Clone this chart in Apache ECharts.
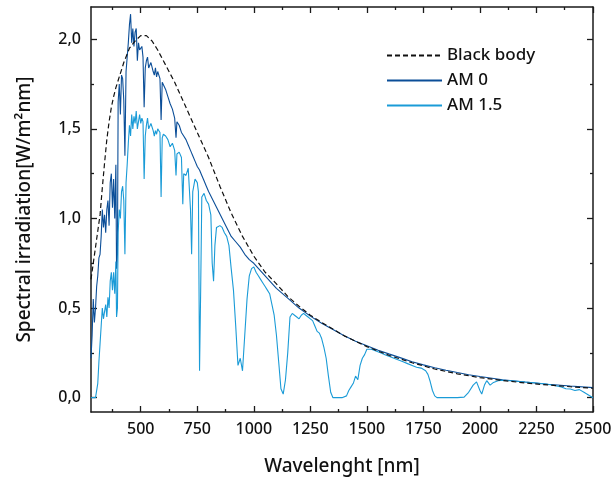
<!DOCTYPE html>
<html>
<head>
<meta charset="utf-8">
<script src="https://cdn.jsdelivr.net/npm/echarts@6/dist/echarts.min.js"></script>
<style>
  html, body { margin: 0; padding: 0; background: #fff; }
  #chart { width: 614px; height: 479px; }
</style>
</head>
<body>
<div id="chart"></div>
<script>
// black body curve
const bbWl = [280, 290, 300, 310, 320, 330, 340, 350, 360, 370, 380, 390, 400, 425, 450, 475, 500, 525, 550, 575, 600, 650, 700, 750, 800, 850, 900, 950, 1000, 1050, 1100, 1150, 1200, 1250, 1300, 1400, 1500, 1600, 1700, 1800, 1900, 2000, 2100, 2200, 2300, 2400, 2500];
const bbVal = [0.66, 0.75, 0.84, 0.93, 1.02, 1.17, 1.31, 1.44, 1.54, 1.62, 1.68, 1.73, 1.77, 1.87, 1.95, 1.99, 2.02, 2.02, 1.99, 1.94, 1.88, 1.76, 1.62, 1.48, 1.34, 1.18, 1.03, 0.90, 0.79, 0.70, 0.635, 0.565, 0.51, 0.46, 0.42, 0.345, 0.285, 0.235, 0.195, 0.16, 0.133, 0.112, 0.096, 0.082, 0.071, 0.061, 0.053];

// AM 0 (extraterrestrial)
const am0Wl = [280, 285, 290, 295, 300, 305, 310, 315, 320, 325, 330, 335, 340, 345, 350, 355, 360, 365, 370, 375, 380, 385, 390, 393, 397, 400, 405, 410, 415, 420, 425, 430, 435, 440, 445, 450, 455, 460, 465, 470, 475, 480, 485, 490, 495, 500, 505, 510, 515, 520, 525, 530, 535, 540, 545, 550, 555, 560, 565, 570, 575, 580, 585, 590, 595, 600, 610, 620, 630, 640, 650, 656, 660, 670, 680, 690, 700, 710, 720, 730, 740, 750, 760, 770, 780, 790, 800, 820, 840, 860, 880, 900, 920, 940, 960, 980, 1000, 1050, 1100, 1150, 1200, 1250, 1300, 1350, 1400, 1450, 1500, 1550, 1600, 1650, 1700, 1750, 1800, 1850, 1900, 1950, 2000, 2100, 2200, 2300, 2400, 2500];
const am0Val = [0.22, 0.35, 0.55, 0.42, 0.50, 0.62, 0.68, 0.78, 0.80, 0.90, 1.05, 0.95, 1.02, 0.92, 1.05, 1.10, 0.96, 1.20, 1.25, 1.06, 1.22, 1.00, 1.30, 0.72, 0.80, 1.65, 1.75, 1.58, 1.80, 1.78, 1.66, 1.35, 1.82, 1.90, 1.98, 2.08, 2.14, 1.98, 2.06, 1.96, 2.04, 2.06, 1.88, 1.98, 1.94, 1.93, 1.96, 1.90, 1.62, 1.84, 1.88, 1.90, 1.84, 1.83, 1.87, 1.86, 1.82, 1.80, 1.84, 1.79, 1.82, 1.80, 1.78, 1.55, 1.76, 1.75, 1.72, 1.68, 1.64, 1.61, 1.56, 1.45, 1.54, 1.52, 1.48, 1.46, 1.44, 1.41, 1.38, 1.35, 1.32, 1.29, 1.27, 1.24, 1.21, 1.18, 1.15, 1.10, 1.05, 1.00, 0.95, 0.90, 0.87, 0.84, 0.80, 0.77, 0.75, 0.68, 0.61, 0.555, 0.50, 0.455, 0.415, 0.38, 0.345, 0.315, 0.29, 0.265, 0.243, 0.222, 0.20, 0.183, 0.167, 0.153, 0.14, 0.128, 0.118, 0.10, 0.087, 0.075, 0.065, 0.056];

// AM 1.5 (ground level)
const am15Wl = [280, 290, 300, 305, 310, 315, 320, 325, 330, 335, 340, 345, 350, 355, 360, 365, 370, 375, 380, 385, 390, 393, 397, 400, 405, 410, 415, 420, 425, 430, 435, 440, 445, 450, 455, 460, 465, 470, 475, 480, 485, 490, 495, 500, 505, 510, 515, 520, 525, 530, 535, 540, 545, 550, 555, 560, 565, 570, 575, 580, 585, 590, 595, 600, 610, 620, 630, 640, 650, 656, 660, 670, 680, 686, 690, 700, 710, 720, 725, 730, 740, 750, 755, 760, 765, 770, 780, 790, 800, 810, 816, 822, 828, 835, 850, 860, 870, 880, 890, 900, 910, 920, 930, 940, 950, 960, 970, 980, 990, 1000, 1010, 1020, 1030, 1040, 1050, 1060, 1070, 1080, 1090, 1100, 1110, 1120, 1130, 1140, 1150, 1160, 1170, 1180, 1190, 1200, 1210, 1220, 1230, 1240, 1250, 1260, 1270, 1280, 1290, 1300, 1310, 1320, 1330, 1340, 1350, 1370, 1390, 1410, 1420, 1430, 1440, 1450, 1460, 1470, 1480, 1490, 1500, 1520, 1540, 1560, 1580, 1600, 1620, 1640, 1660, 1680, 1700, 1720, 1740, 1760, 1770, 1780, 1790, 1800, 1810, 1850, 1900, 1930, 1950, 1970, 1985, 2000, 2008, 2020, 2030, 2045, 2060, 2080, 2100, 2150, 2200, 2250, 2300, 2340, 2360, 2380, 2400, 2420, 2440, 2460, 2480, 2500];
const am15Val = [0, 0, 0, 0, 0.08, 0.20, 0.30, 0.40, 0.50, 0.44, 0.48, 0.52, 0.45, 0.56, 0.50, 0.65, 0.70, 0.60, 0.70, 0.58, 0.76, 0.45, 0.50, 0.92, 1.05, 1.00, 1.15, 1.18, 1.10, 0.80, 1.20, 1.30, 1.42, 1.52, 1.46, 1.58, 1.50, 1.57, 1.53, 1.60, 1.50, 1.49, 1.58, 1.53, 1.56, 1.54, 1.22, 1.46, 1.52, 1.56, 1.50, 1.50, 1.53, 1.52, 1.49, 1.46, 1.49, 1.47, 1.50, 1.50, 1.48, 1.12, 1.45, 1.47, 1.46, 1.44, 1.40, 1.42, 1.38, 1.24, 1.36, 1.37, 1.34, 1.08, 1.25, 1.24, 1.28, 1.05, 0.80, 1.15, 1.22, 1.20, 1.15, 0.15, 0.60, 1.12, 1.14, 1.10, 1.08, 1.02, 0.75, 0.65, 0.85, 0.95, 0.96, 0.95, 0.92, 0.90, 0.85, 0.72, 0.60, 0.40, 0.18, 0.22, 0.15, 0.35, 0.55, 0.68, 0.72, 0.73, 0.70, 0.68, 0.66, 0.64, 0.62, 0.60, 0.58, 0.52, 0.46, 0.35, 0.20, 0.05, 0.02, 0.10, 0.25, 0.45, 0.47, 0.46, 0.45, 0.44, 0.46, 0.47, 0.46, 0.45, 0.44, 0.43, 0.40, 0.37, 0.36, 0.33, 0.28, 0.22, 0.12, 0.03, 0, 0, 0, 0.01, 0.04, 0.06, 0.08, 0.12, 0.10, 0.18, 0.22, 0.24, 0.27, 0.27, 0.26, 0.25, 0.24, 0.23, 0.22, 0.21, 0.20, 0.19, 0.18, 0.17, 0.165, 0.15, 0.13, 0.09, 0.04, 0.01, 0, 0, 0, 0.003, 0.03, 0.07, 0.088, 0.04, 0.02, 0.07, 0.095, 0.07, 0.085, 0.095, 0.097, 0.093, 0.087, 0.082, 0.075, 0.065, 0.060, 0.050, 0.048, 0.040, 0.045, 0.030, 0.015, 0];

const xMajor = [500, 750, 1000, 1250, 1500, 1750, 2000, 2250, 2500];
const xMinor = [375, 625, 875, 1125, 1375, 1625, 1875, 2125, 2375];
const yMajor = [0, 0.5, 1.0, 1.5, 2.0];
const yMinor = [0.25, 0.75, 1.25, 1.75];

const pairs = (xs, ys) => xs.map((x, i) => [x, ys[i]]);

var myChart = echarts.init(document.getElementById('chart'));
const font = 'Noto Sans';
const lineCol = '#1a1a1a';

function xAx(pos, ticks, len, labels, line) {
    return {
        type: 'value', position: pos, min: 280, max: 2500,
        splitLine: { show: false },
        axisLine: { show: line, onZero: false, lineStyle: { color: lineCol, width: 1.5 } },
        axisTick: { show: true, inside: true, length: len, customValues: ticks, lineStyle: { color: lineCol, width: 1.3 } },
        axisLabel: labels ? {
            customValues: ticks, fontFamily: font, fontSize: 16, fontWeight: 500, color: '#111', margin: 9,
            formatter: v => String(v)
        } : { show: false }
    };
}
function yAx(pos, ticks, len, labels, line) {
    return {
        type: 'value', position: pos, min: -0.08, max: 2.18,
        splitLine: { show: false },
        axisLine: { show: line, onZero: false, lineStyle: { color: lineCol, width: 1.5 } },
        axisTick: { show: true, inside: true, length: len, customValues: ticks, lineStyle: { color: lineCol, width: 1.3 } },
        axisLabel: labels ? {
            customValues: ticks, fontFamily: font, fontSize: 16, fontWeight: 500, color: '#111', margin: 10,
            formatter: v => v.toFixed(1).replace('.', ',')
        } : { show: false }
    };
}

const bottom = xAx('bottom', xMajor, 6, true, true);
bottom.name = 'Wavelenght [nm]';
bottom.nameLocation = 'middle';
bottom.nameGap = 45;
bottom.nameTextStyle = { fontFamily: font, fontSize: 19, fontWeight: 500, color: '#111' };

const left = yAx('left', yMajor, 6, true, true);
left.name = 'Spectral irradiation[W/m²nm]';
left.nameLocation = 'middle';
left.nameGap = 57;
left.nameTextStyle = { fontFamily: font, fontSize: 19, fontWeight: 500, color: '#111' };

var option = {
    animation: false,
    grid: { left: 91, right: 21, top: 7, bottom: 67, outerBoundsMode: 'none' },
    legend: {
        orient: 'vertical', left: 381, top: 42,
        itemWidth: 55, itemHeight: 14, itemGap: 8,
        itemStyle: { opacity: 0 },
        textStyle: { fontFamily: font, fontSize: 17, fontWeight: 500, color: '#111' },
        data: ['Black body', 'AM 0', 'AM 1.5']
    },
    xAxis: [
        bottom,
        xAx('bottom', xMinor, 3, false, false),
        xAx('top', xMajor, 6, false, true),
        xAx('top', xMinor, 3, false, false)
    ],
    yAxis: [
        left,
        yAx('left', yMinor, 3, false, false),
        yAx('right', yMajor, 6, false, true),
        yAx('right', yMinor, 3, false, false)
    ],
    series: [
        {
            name: 'AM 0', type: 'line', showSymbol: false, symbol: 'none',
            lineStyle: { color: '#0b4e98', width: 1.1 }, itemStyle: { color: '#0b4e98' },
            data: pairs(am0Wl, am0Val), z: 2
        },
        {
            name: 'AM 1.5', type: 'line', showSymbol: false, symbol: 'none',
            lineStyle: { color: '#1a9bd7', width: 1.1 }, itemStyle: { color: '#1a9bd7' },
            data: pairs(am15Wl, am15Val), z: 3
        },
        {
            name: 'Black body', type: 'line', showSymbol: false, symbol: 'none',
            lineStyle: { color: '#111', width: 1.2, type: [5, 3] }, itemStyle: { color: '#111' },
            data: pairs(bbWl, bbVal), z: 4
        }
    ]
};

myChart.setOption(option);
window.addEventListener('resize', function () {
    myChart.resize();
});
</script>
</body>
</html>
